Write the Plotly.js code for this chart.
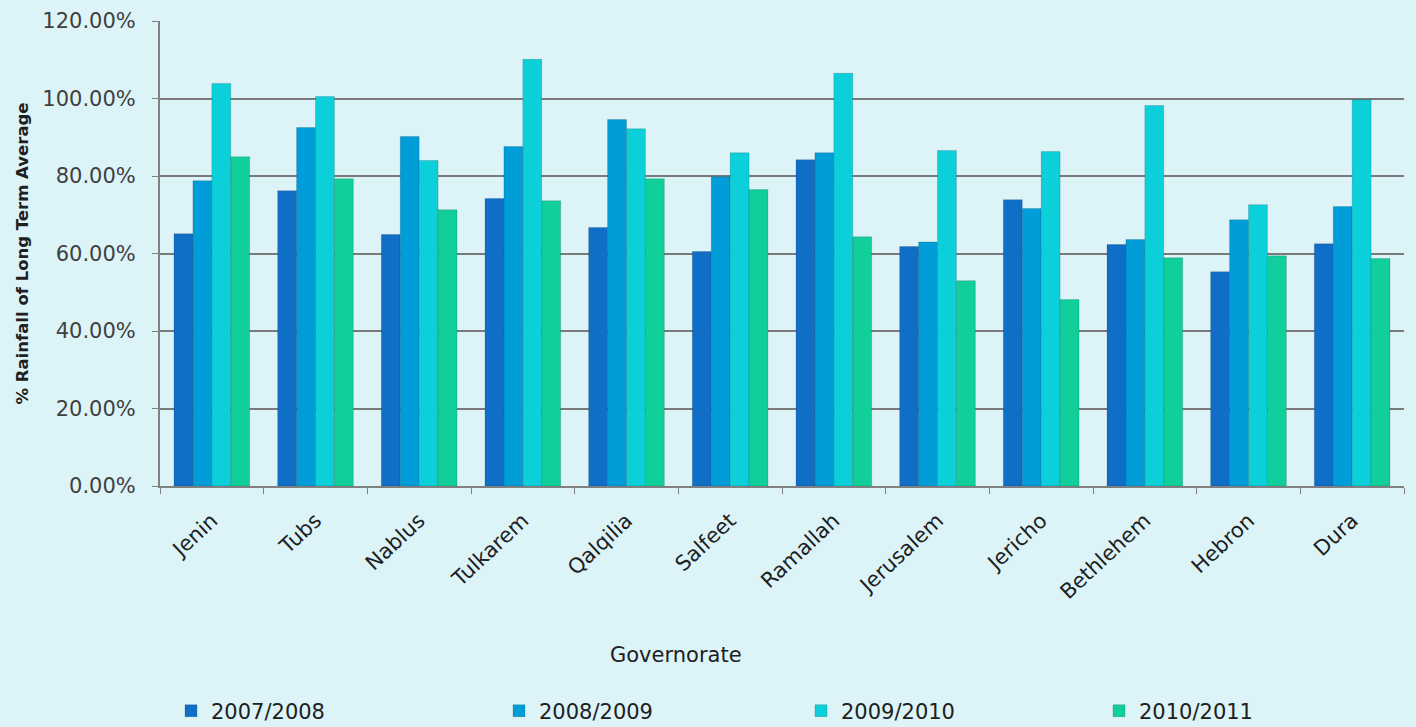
<!DOCTYPE html>
<html>
<head>
<meta charset="utf-8">
<script src="https://cdn.plot.ly/plotly-3.0.1.min.js"></script>
<style>
html,body{margin:0;padding:0;background:#dcf4f8;}
#chart{width:1416px;height:727px;}
</style>
</head>
<body>
<div id="chart"></div>
<script>
const governorates = ["Jenin","Tubs","Nablus","Tulkarem","Qalqilia","Salfeet","Ramallah","Jerusalem","Jericho","Bethlehem","Hebron","Dura"];
const s2007_2008 = [0.651,0.762,0.649,0.742,0.667,0.605,0.842,0.618,0.739,0.623,0.553,0.625];
const s2008_2009 = [0.788,0.925,0.902,0.876,0.946,0.798,0.860,0.630,0.716,0.636,0.687,0.721];
const s2009_2010 = [1.039,1.005,0.840,1.101,0.922,0.860,1.065,0.866,0.863,0.982,0.726,0.997];
const s2010_2011 = [0.850,0.793,0.713,0.736,0.793,0.765,0.643,0.530,0.481,0.589,0.594,0.587];
const seriesNames = ["2007/2008","2008/2009","2009/2010","2010/2011"];
const yTickVals = [0,0.2,0.4,0.6,0.8,1.0,1.2];

const colors = ["#0f6fc6","#009dd9","#0bd0d9","#10cf9b"];
const allSeries = [s2007_2008,s2008_2009,s2009_2010,s2010_2011];
const font = "'DejaVu Sans', sans-serif";
const legendIds = ["legend","legend2","legend3","legend4"];
const legendX = [171, 499, 801, 1099];

const traces = allSeries.map((vals,i)=>({
  type:"bar",
  name:seriesNames[i],
  x:governorates,
  y:vals,
  legend:legendIds[i],
  marker:{color:colors[i], line:{color:"rgba(0,0,0,0.15)", width:1}},
  hoverinfo:"x+y"
}));

const layout = {
  width:1416, height:727,
  paper_bgcolor:"#dcf4f8",
  plot_bgcolor:"#dcf4f8",
  barmode:"group",
  bargap:0.27,
  bargroupgap:0,
  margin:{l:160, r:12, t:21, b:241, autoexpand:false},
  font:{family:font, color:"#404040"},
  xaxis:{
    tickangle:-43,
    tickson:"boundaries",
    ticks:"outside",
    ticklen:6,
    tickcolor:"#808080",
    ticklabelstandoff:12,
    showline:true, linecolor:"#808080", linewidth:2,
    tickfont:{size:21, color:"#202020", family:font},
    automargin:false
  },
  yaxis:{
    range:[0,1.2],
    tickvals:yTickVals,
    tickformat:".2%",
    ticks:"outside", ticklen:6, tickcolor:"#808080",
    ticklabelstandoff:12,
    showline:true, linecolor:"#808080", linewidth:2,
    showgrid:true, gridcolor:"#7a7a7a", gridwidth:2,
    zeroline:false,
    tickfont:{size:21, color:"#404040", family:font},
    title:{text:"<b>% Rainfall of Long Term Average</b>", font:{size:16.5, color:"#202020", family:font}, standoff:10},
    automargin:false
  },
  annotations:[{
    text:"Governorate",
    xref:"paper", yref:"paper",
    x:(676-160)/1244, y:-(655-486)/465,
    xanchor:"center", yanchor:"middle",
    showarrow:false,
    font:{size:21, color:"#202020", family:font}
  }],
  showlegend:true
};

legendIds.forEach((id,i)=>{
  layout[id] = {
    orientation:"h",
    xref:"container", yref:"container",
    x:legendX[i]/1416, xanchor:"left",
    y:(727-711)/727, yanchor:"middle",
    font:{size:21, color:"#202020", family:font},
    itemwidth:30,
    bgcolor:"rgba(0,0,0,0)"
  };
});

Plotly.newPlot("chart", traces, layout, {displayModeBar:false, staticPlot:true});
</script>
</body>
</html>
